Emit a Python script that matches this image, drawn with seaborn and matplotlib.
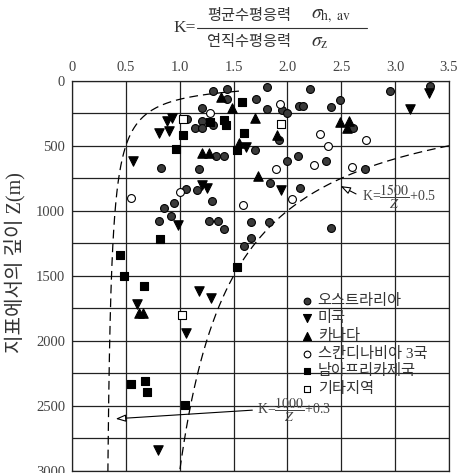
import numpy as np
import pandas as pd
import matplotlib
matplotlib.use("Agg")
import matplotlib.pyplot as plt
import seaborn as sns
from matplotlib.lines import Line2D

# ---------------- data (K, depth Z in m) ----------------
regions = ["오스트라리아", "미국", "카나다", "스칸디나비아 3국", "남아프리카제국", "기타지역"]

aus_k = [1.44, 1.31, 1.44, 1.21, 1.21, 1.31, 1.14, 1.21, 1.07, 1.71, 1.81, 1.81, 1.95, 2.00,
         2.11, 2.14, 2.21, 2.40, 2.49, 2.95, 3.32, 2.61, 1.92, 1.70, 1.34, 1.41, 0.83, 1.18,
         2.00, 2.10, 2.36, 2.72, 1.84, 2.12, 1.06, 1.16, 0.95, 0.85, 1.30, 0.92, 0.81, 1.27,
         1.36, 1.41, 1.66, 1.83, 1.66, 1.60, 2.40]
aus_z = [60, 83, 143, 208, 313, 340, 367, 367, 297, 140, 52, 221, 222, 246,
         195, 195, 67, 205, 147, 77, 37, 362, 457, 533, 576, 580, 670, 675,
         621, 577, 615, 675, 790, 821, 835, 837, 940, 980, 922, 1040, 1082, 1080,
         1080, 1143, 1085, 1085, 1211, 1270, 1132]

usa_k = [0.88, 0.93, 0.81, 0.90, 0.57, 1.21, 1.25, 0.98, 1.62, 1.94, 3.31, 3.14, 0.60,
         1.18, 1.29, 1.06, 0.80]
usa_z = [308, 285, 403, 386, 615, 800, 825, 1107, 507, 837, 92, 221, 1718,
         1620, 1670, 1940, 2835]

can_k = [1.38, 1.49, 1.70, 1.55, 1.21, 1.27, 1.73, 1.90, 2.49, 2.57, 2.55, 0.62, 0.66]
can_z = [123, 212, 289, 478, 554, 552, 732, 418, 320, 306, 360, 1787, 1787]

sca_k = [1.28, 1.93, 2.30, 2.73, 2.38, 2.25, 1.89, 2.60, 2.04, 1.59, 0.55, 1.00]
sca_z = [248, 181, 412, 459, 503, 646, 681, 663, 907, 957, 900, 855]

saf_k = [1.58, 1.41, 1.43, 1.28, 1.60, 1.53, 1.03, 0.97, 0.82, 1.53, 0.45, 0.48, 0.67,
         0.55, 0.68, 0.70, 1.05]
saf_z = [160, 300, 340, 320, 403, 535, 420, 528, 1216, 1430, 1337, 1500, 1576,
         2335, 2310, 2395, 2495]

oth_k = [1.03, 1.94, 1.02]
oth_z = [297, 330, 1800]

x_ticks = [0, 0.5, 1.0, 1.5, 2.0, 2.5, 3.0, 3.5]
x_tick_labels = ["0", "0.5", "1.0", "1.5", "2.0", "2.5", "3.0", "3.5"]
y_ticks = [0, 500, 1000, 1500, 2000, 2500, 3000]
y_tick_labels = ["0", "500", "1000", "1500", "2000", "2500", "3000"]

# ---------------- style ----------------
sns.set_theme(style="white")
plt.rcParams["font.family"] = ["Liberation Serif", "Noto Sans CJK KR", "DejaVu Sans"]
plt.rcParams["mathtext.fontset"] = "stix"
plt.rcParams["axes.unicode_minus"] = False

W, H = 462, 473
fig = plt.figure(figsize=(W / 100, H / 100), dpi=100)
ax = fig.add_axes([72 / W, 1 - 471 / H, 377 / W, 390.3 / H])

frames = []
for name, k, z in zip(regions, [aus_k, usa_k, can_k, sca_k, saf_k, oth_k],
                      [aus_z, usa_z, can_z, sca_z, saf_z, oth_z]):
    frames.append(pd.DataFrame({"K": k, "Z": z, "region": name}))
df = pd.concat(frames, ignore_index=True)

styles = {
    "오스트라리아": dict(marker="o", color="#3a3a3a", s=32),
    "미국": dict(marker="v", color="black", s=46),
    "카나다": dict(marker="^", color="black", s=46),
    "스칸디나비아 3국": dict(marker="o", color="white", s=32),
    "남아프리카제국": dict(marker="s", color="black", s=26),
    "기타지역": dict(marker="s", color="white", s=26),
}
for name in regions:
    st = styles[name]
    sns.scatterplot(data=df[df.region == name], x="K", y="Z", marker=st["marker"],
                    color=st["color"], s=st["s"], edgecolor="black", linewidth=0.8,
                    label=name, ax=ax, zorder=3, clip_on=False)

# bounding curves
z1 = np.linspace(80, 3000, 500)
ax.plot(100 / z1 + 0.3, z1, color="black", lw=0.9, dashes=(7, 4), zorder=2)
z2 = np.linspace(500, 3000, 400)
ax.plot(1500 / z2 + 0.5, z2, color="black", lw=0.9, dashes=(7, 4), zorder=2)

ax.set_xlim(0, 3.5)
ax.set_ylim(3000, 0)
ax.xaxis.tick_top()
ax.set_xticks(x_ticks)
ax.set_xticklabels(x_tick_labels)
ax.set_yticks(y_ticks)
ax.set_yticklabels(y_tick_labels)
ax.set_yticks(np.arange(0, 3001, 250), minor=True)
ax.tick_params(which="both", length=0, labelsize=10.5, labelcolor="#444", pad=5)
ax.grid(which="both", color="#222", lw=0.9)
for sp in ax.spines.values():
    sp.set_color("#222")
    sp.set_linewidth(0.9)
ax.set_xlabel("")
ax.set_ylabel("지표에서의 깊이 Z(m)", fontsize=14.5, color="#333")
ax.yaxis.set_label_coords(-0.122, 0.533)

# annotations
ax.annotate("", xy=(2.47, 800), xytext=(2.66, 880),
            arrowprops=dict(arrowstyle="-|>,head_length=0.5,head_width=0.18",
                            fc="white", ec="black", lw=0.8))
ax.text(2.69, 895, r"K=$\dfrac{1500}{Z}$+0.5", fontsize=10, color="#444",
        ha="left", va="center")
ax.annotate("", xy=(0.38, 2600), xytext=(1.70, 2531),
            arrowprops=dict(arrowstyle="-|>,head_length=0.5,head_width=0.18",
                            fc="white", ec="black", lw=0.8))
ax.text(1.72, 2531, r"K=$\dfrac{1000}{Z}$+0.3", fontsize=10, color="#444",
        ha="left", va="center")

leg = ax.legend(loc="upper left", bbox_to_anchor=(0.607, 0.454), frameon=False,
                fontsize=11, handlelength=0.8, handletextpad=0.3, labelspacing=0.24,
                borderpad=0, borderaxespad=0, markerscale=0.85)
for t in leg.get_texts():
    t.set_color("#333")

# title formula
fy = lambda y: 1 - y / H
fig.text(196 / W, fy(28), "K=", fontsize=12.5, color="#333", ha="right", va="center")
fig.add_artist(Line2D([197 / W, 367 / W], [fy(28), fy(28)], transform=fig.transFigure,
                      color="#333", lw=0.8))
fig.text(207 / W, fy(16), "평균수평응력", fontsize=11, color="#333", ha="left", va="center")
fig.text(311 / W, fy(16), r"$\sigma_{\mathrm{h,\ av}}$", fontsize=14, color="#333",
         ha="left", va="center")
fig.text(207 / W, fy(42), "연직수평응력", fontsize=11, color="#333", ha="left", va="center")
fig.text(311 / W, fy(42), r"$\sigma_{\mathrm{z}}$", fontsize=14, color="#333",
         ha="left", va="center")

fig.savefig("out.png", dpi=100)
